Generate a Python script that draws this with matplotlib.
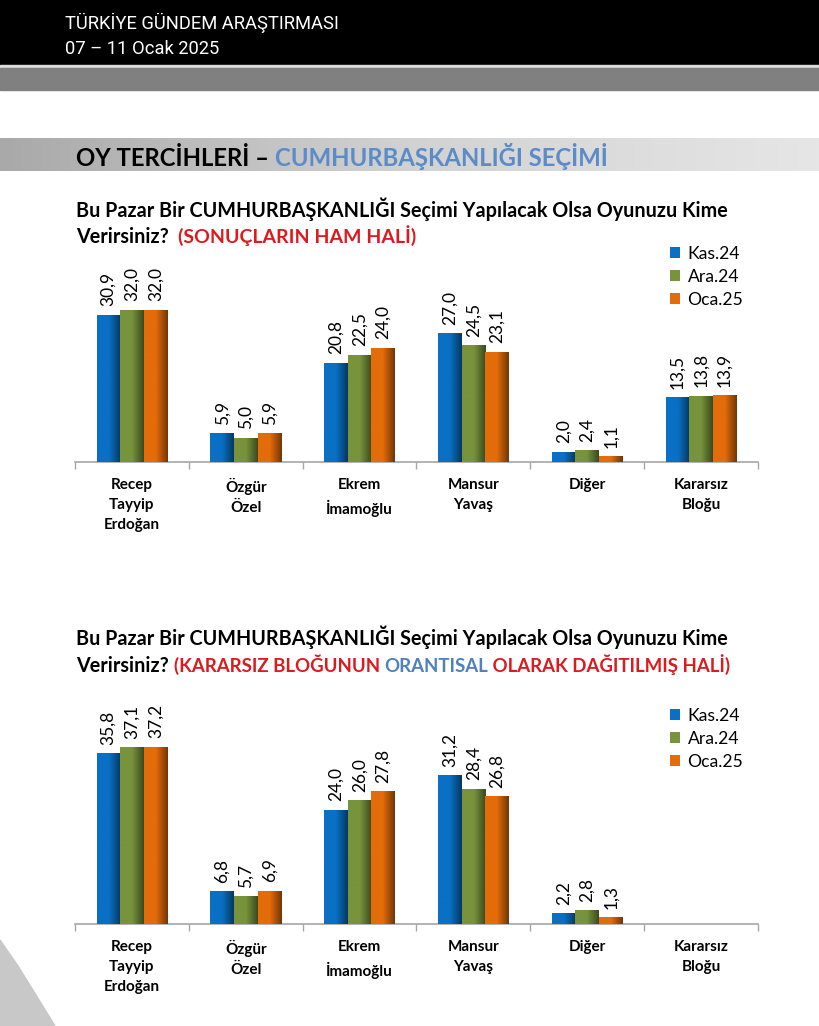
import numpy as np
import matplotlib.pyplot as plt
from matplotlib.colors import LinearSegmentedColormap, to_rgb
from matplotlib.patches import Rectangle, Polygon

plt.rcParams['font.family'] = ['Lato', 'DejaVu Sans']

# --- data ---
header_lines = ["TÜRKİYE GÜNDEM ARAŞTIRMASI", "07 – 11 Ocak 2025"]
categories = ["Recep\nTayyip\nErdoğan", "Özgür\nÖzel", "Ekrem\nİmamoğlu",
              "Mansur\nYavaş", "Diğer", "Kararsız\nBloğu"]
periods = ["Kas.24", "Ara.24", "Oca.25"]

# raw results
raw_kas = [30.9, 5.9, 20.8, 27.0, 2.0, 13.5]
raw_ara = [32.0, 5.0, 22.5, 24.5, 2.4, 13.8]
raw_oca = [32.0, 5.9, 24.0, 23.1, 1.1, 13.9]

# undecided distributed proportionally (no undecided bar)
dist_kas = [35.8, 6.8, 24.0, 31.2, 2.2, np.nan]
dist_ara = [37.1, 5.7, 26.0, 28.4, 2.8, np.nan]
dist_oca = [37.2, 6.9, 27.8, 26.8, 1.3, np.nan]

bar_colors = ["#0a70c4", "#77933c", "#e46c0a"]
red = "#dc1a1f"
blue_txt = "#5b8cc8"

W, H = 820, 1026
fig = plt.figure(figsize=(W / 100, H / 100), dpi=100)


def fx(x):
    return x / W


def fy(y):
    return 1 - y / H


# --- page decoration ---
fig.patches.append(Rectangle((0, fy(65)), 1, 65 / H, transform=fig.transFigure,
                             color="black", zorder=0))
fig.patches.append(Rectangle((0, fy(68)), 1, 3 / H, transform=fig.transFigure,
                             color="#dcdcdc", zorder=0))
fig.patches.append(Rectangle((0, fy(90)), 1, 22 / H, transform=fig.transFigure,
                             color="#808080", zorder=0))
corner = [(0, 940), (18, 966), (36, 995), (55, 1026), (0, 1026)]
fig.patches.append(Polygon([(fx(a), fy(b)) for a, b in corner], closed=True,
                           transform=fig.transFigure, color="#c8c8c8", zorder=0))

band = fig.add_axes([0, fy(171), 1, 33 / H])
band.imshow(np.linspace(0, 1, 256).reshape(1, -1), aspect="auto", extent=[0, 1, 0, 1],
            cmap=LinearSegmentedColormap.from_list("band", ["#a9a9a9", "#d2d2d2", "#e6e6e6"]))
band.set_axis_off()

fig.text(fx(65), fy(29), header_lines[0], color="white", fontsize=13.2, family="Roboto")
fig.text(fx(65), fy(54), header_lines[1], color="white", fontsize=13.2, family="Roboto")

renderer = fig.canvas.get_renderer()


def colored_line(x, y, parts, **kw):
    # draw pieces of a line one after another, each in its own colour / size
    x = fx(x)
    for part in parts:
        s, c = part[0], part[1]
        extra = dict(kw)
        if len(part) > 2:
            extra["fontsize"] = part[2]
        t = fig.text(x, fy(y), s, color=c, va="baseline", **extra)
        bb = t.get_window_extent(renderer)
        x = bb.x1 / fig.bbox.width


colored_line(76, 166, [("OY TERCİHLERİ – ", "black"),
                       ("CUMHURBAŞKANLIĞI SEÇİMİ", blue_txt)],
             fontsize=17.2, fontweight="bold")

question = "Bu Pazar Bir CUMHURBAŞKANLIĞI Seçimi Yapılacak Olsa Oyunuzu Kime"
colored_line(76, 217, [(question, "black")], fontsize=14.2, fontweight="bold")
colored_line(76, 243, [("Verirsiniz?  ", "black"), ("(SONUÇLARIN HAM HALİ)", red, 14.0)],
             fontsize=14.2, fontweight="bold")
colored_line(76, 645, [(question, "black")], fontsize=14.2, fontweight="bold")
colored_line(76, 672, [("Verirsiniz? ", "black"), ("(KARARSIZ BLOĞUNUN ", red, 13.4),
                       ("ORANTISAL", "#4f81bd", 13.4),
                       (" OLARAK DAĞITILMIŞ HALİ)", red, 13.4)],
             fontsize=14.2, fontweight="bold")


def shade_cmap(color):
    c = np.array(to_rgb(color))
    return LinearSegmentedColormap.from_list("", [c, c, c * 0.5])


def draw_chart(base_y, legend_top, series):
    ax = fig.add_axes([fx(75), fy(base_y), fx(758) - fx(75), 190 / H])
    x = np.arange(len(categories))
    width = 0.207
    grad = np.linspace(0, 1, 64).reshape(1, -1)
    handles = []
    for k, (vals, col) in enumerate(zip(series, bar_colors)):
        vals = np.array(vals, dtype=float)
        ok = ~np.isnan(vals)
        bars = ax.bar(x[ok] + (k - 1) * width, vals[ok], width, color=col, zorder=2)
        handles.append(bars)
        cm = shade_cmap(col)
        for rect, v in zip(bars, vals[ok]):
            x0 = rect.get_x()
            ax.imshow(grad, extent=[x0, x0 + width, 0, v], aspect="auto", cmap=cm,
                      zorder=3, interpolation="bilinear")
            ax.annotate(f"{v:.1f}".replace(".", ","), (x0 + width / 2, v),
                        xytext=(0, 9), textcoords="offset pixels", rotation=90,
                        ha="center", va="bottom", fontsize=12.5, color="black")

    ax.set_xlim(-0.5, len(categories) - 0.5)
    ax.set_ylim(0, 40)
    ax.set_xticks(np.arange(-0.5, len(categories), 1))
    ax.set_xticklabels([])
    ax.set_xticks(x, minor=True)
    ax.set_xticklabels(categories, minor=True, fontweight="bold", fontsize=11,
                       linespacing=1.55)
    ax.tick_params(axis="x", which="major", length=5, color="#a6a6a6", width=1)
    ax.tick_params(axis="x", which="minor", length=0, pad=11.5)
    ax.set_yticks([])
    for side in ["left", "right", "top"]:
        ax.spines[side].set_visible(False)
    ax.spines["bottom"].set_color("#a6a6a6")
    ax.spines["bottom"].set_linewidth(1.2)
    ax.set_facecolor("none")

    ax.legend(handles, periods, loc="upper left",
              bbox_to_anchor=(fx(670), fy(legend_top)), bbox_transform=fig.transFigure,
              frameon=False, fontsize=12.6, handlelength=0.6, handleheight=0.6,
              handletextpad=0.4, labelspacing=0.4, borderpad=0, borderaxespad=0)
    return ax


draw_chart(462, 246, [raw_kas, raw_ara, raw_oca])
draw_chart(924, 708, [dist_kas, dist_ara, dist_oca])

fig.savefig("out.png", dpi=100)
